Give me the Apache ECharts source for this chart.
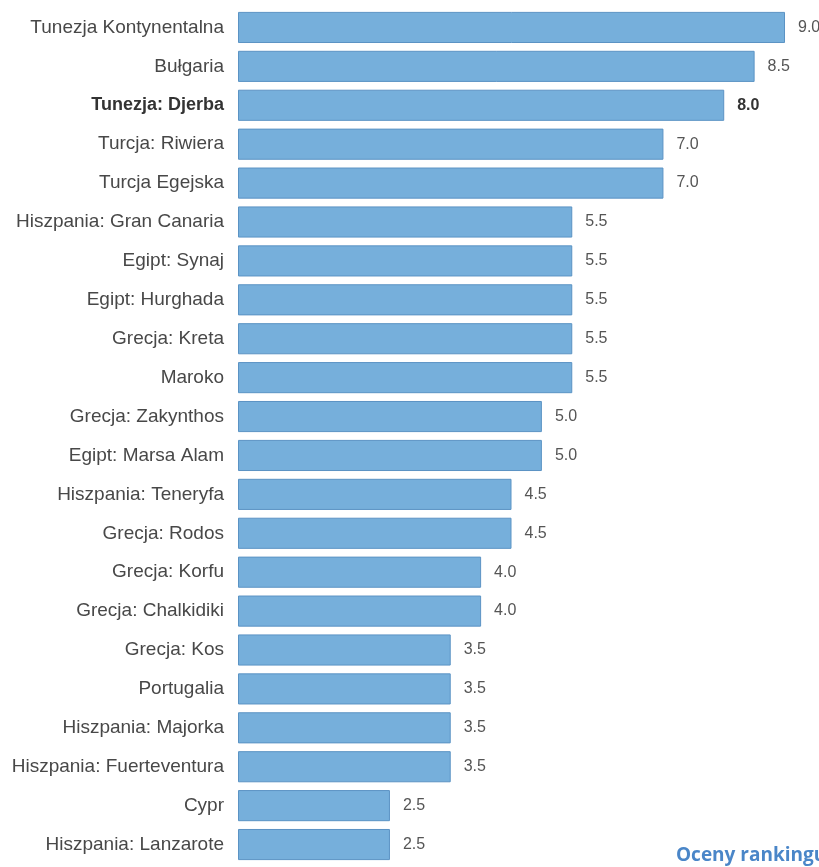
<!DOCTYPE html>
<html>
<head>
<meta charset="utf-8">
<script src="https://cdn.jsdelivr.net/npm/echarts@6/dist/echarts.min.js"></script>
<style>
  html, body { margin: 0; padding: 0; background: #fff; }
  #chart { width: 819px; height: 867px; }
</style>
</head>
<body>
<div id="chart"></div>
<script>
const categories = [
  'Tunezja Kontynentalna', 'Bułgaria', 'Tunezja: Djerba', 'Turcja: Riwiera',
  'Turcja Egejska', 'Hiszpania: Gran Canaria', 'Egipt: Synaj', 'Egipt: Hurghada',
  'Grecja: Kreta', 'Maroko', 'Grecja: Zakynthos', 'Egipt: Marsa Alam',
  'Hiszpania: Teneryfa', 'Grecja: Rodos', 'Grecja: Korfu', 'Grecja: Chalkidiki',
  'Grecja: Kos', 'Portugalia', 'Hiszpania: Majorka', 'Hiszpania: Fuerteventura',
  'Cypr', 'Hiszpania: Lanzarote'
]
const scores = [9.0, 8.5, 8.0, 7.0, 7.0, 5.5, 5.5, 5.5, 5.5, 5.5, 5.0, 5.0,
  4.5, 4.5, 4.0, 4.0, 3.5, 3.5, 3.5, 3.5, 2.5, 2.5]
const highlighted = 'Tunezja: Djerba'

const chart = echarts.init(document.getElementById('chart'))

chart.setOption({
  animation: false,
  grid: { left: 238, right: 34, top: 8, bottom: 3 },
  xAxis: {
    type: 'value',
    min: 0,
    max: 9,
    show: false
  },
  yAxis: {
    type: 'category',
    inverse: true,
    data: categories,
    axisLine: { show: false },
    axisTick: { show: false },
    axisLabel: {
      margin: 14,
      fontFamily: 'Liberation Sans, Arial, sans-serif',
      fontSize: 19,
      color: '#484848',
      formatter: (v) => (v === highlighted ? `{b|${v}}` : v),
      rich: {
        b: { fontWeight: 'bold', fontSize: 18, color: '#333', fontFamily: 'Liberation Sans, Arial, sans-serif' }
      }
    }
  },
  series: [
    {
      type: 'bar',
      data: scores.map((v, i) => ({
        value: v,
        label: categories[i] === highlighted ? { fontWeight: 'bold', color: '#333' } : undefined
      })),
      barCategoryGap: '20%',
      itemStyle: {
        color: '#76afdb',
        borderColor: '#5b93c4',
        borderWidth: 1
      },
      label: {
        show: true,
        position: 'right',
        distance: 13,
        fontFamily: 'Liberation Sans, Arial, sans-serif',
        fontSize: 16,
        color: '#555',
        formatter: (p) => p.value.toFixed(1)
      }
    }
  ],
  graphic: [
    {
      type: 'text',
      left: 676,
      top: 846,
      style: {
        text: 'Oceny rankingu',
        fontFamily: 'Open Sans, Liberation Sans, sans-serif',
        fontWeight: 'bold',
        fontSize: 19,
        fill: '#4a86c8'
      }
    }
  ]
})
</script>
</body>
</html>
